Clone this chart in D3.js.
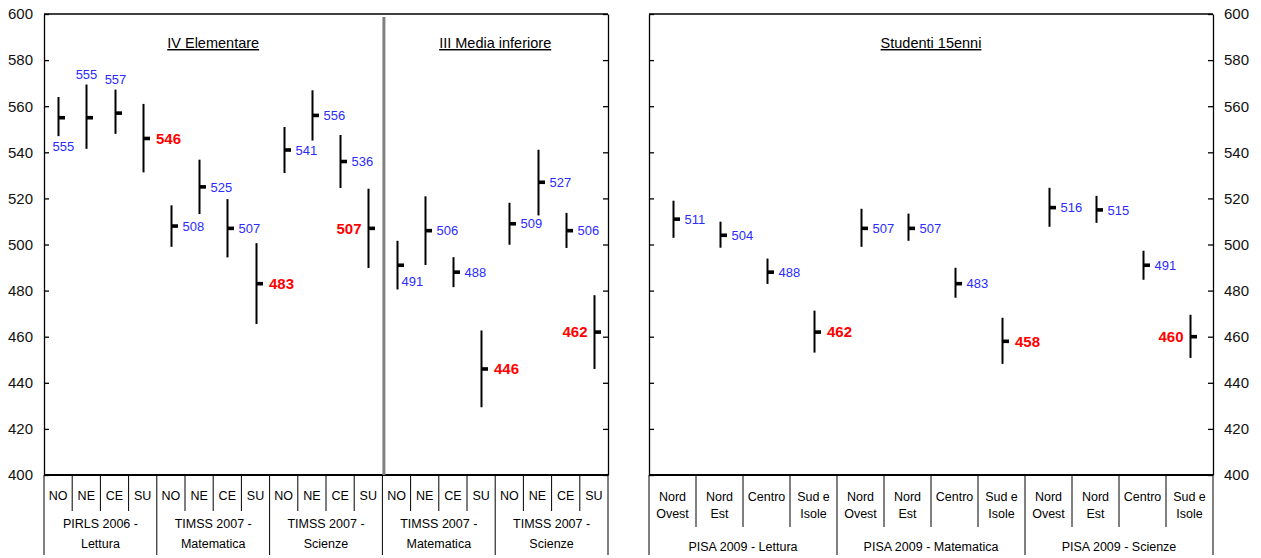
<!DOCTYPE html>
<html>
<head>
<meta charset="utf-8">
<script src="https://cdn.jsdelivr.net/npm/d3@7"></script>
<style>
  body { margin: 0; background: #fff; }
  svg { display: block; font-family: "Liberation Sans", Arial, sans-serif; }
</style>
</head>
<body>
<div id="chart"></div>
<script>
// IV elementare + III media (left block)
const leftCats = ["NO", "NE", "CE", "SU"];
const leftGroups = [["PIRLS 2006 -", "Lettura"], ["TIMSS 2007 -", "Matematica"], ["TIMSS 2007 -", "Scienze"],
                    ["TIMSS 2007 -", "Matematica"], ["TIMSS 2007 -", "Scienze"]];
const leftMeans = [555, 555, 557, 546, 508, 525, 507, 483, 541, 556, 536, 507,
                   491, 506, 488, 446, 509, 527, 506, 462];
const leftLow = [547, 541.5, 548, 531.3, 499, 513.2, 494.4, 465.5, 531, 545.1, 524.5, 489.8,
                 480.5, 491.1, 481.5, 429.4, 499.9, 512.6, 498.5, 446];
const leftHigh = [564, 569.4, 567.2, 561, 517, 536.8, 519.7, 500.6, 551, 566.9, 547.5, 524.2,
                  501.6, 520.9, 494.5, 462.7, 518.1, 541.1, 513.7, 478];

// 15enni (right block)
const rightCats = [["Nord", "Ovest"], ["Nord", "Est"], ["Centro"], ["Sud e", "Isole"]];
const rightGroups = ["PISA 2009 - Lettura", "PISA 2009 - Matematica", "PISA 2009 - Scienze"];
const rightMeans = [511, 504, 488, 462, 507, 507, 483, 458, 516, 515, 491, 460];
const rightLow = [502.9, 498.6, 482.9, 453.1, 499, 501.6, 476.9, 448.2, 507.7, 509.4, 484.7, 450.8];
const rightHigh = [519, 509.9, 493.9, 471.3, 515.5, 513.4, 489.9, 468.2, 524.6, 521.1, 497.3, 469.5];

const yTicks = [400, 420, 440, 460, 480, 500, 520, 540, 560, 580, 600];
const titles = ["IV Elementare", "III Media inferiore", "Studenti 15enni"];

const width = 1261, height = 558;
const plotTop = 14, base = 475;
const blue = "#2b2bff", red = "#ff0000";

const svg = d3.select("#chart").append("svg")
    .attr("width", width)
    .attr("height", height);

const y = d3.scaleLinear().domain([400, 600]).range([base, plotTop]);
const xL = d3.scaleBand().domain(d3.range(leftMeans.length)).range([44, 608]).padding(0);
const xR = d3.scaleBand().domain(d3.range(rightMeans.length)).range([649, 1213]).padding(0);

// where each value label goes
const leftPos = ["below", "above", "above", "right", "right", "right", "right", "right",
                 "right", "right", "right", "left", "belowright", "right", "right", "right",
                 "right", "right", "right", "left"];
const rightPos = ["right", "right", "right", "right", "right", "right", "right", "right",
                  "right", "right", "right", "left"];

function styleAxis(g) {
    g.selectAll("path").attr("stroke", "#000").attr("stroke-width", 1.3);
    g.selectAll("line").attr("stroke", "#000").attr("stroke-width", 1.3);
    g.selectAll("text").attr("font-size", "15px").attr("fill", "#111")
        .attr("font-family", "Liberation Sans, Arial, sans-serif");
}

// axes
svg.append("g").attr("transform", "translate(44,0)")
    .call(d3.axisLeft(y).tickValues(yTicks).tickSize(-5).tickSizeOuter(0).tickPadding(11))
    .call(styleAxis);
svg.append("g").attr("transform", "translate(608,0)")
    .call(d3.axisRight(y).tickValues(yTicks).tickSize(-5).tickSizeOuter(0).tickFormat(""))
    .call(styleAxis);
svg.append("g").attr("transform", "translate(649,0)")
    .call(d3.axisLeft(y).tickValues(yTicks).tickSize(-5).tickSizeOuter(0).tickFormat(""))
    .call(styleAxis);
svg.append("g").attr("transform", "translate(1213,0)")
    .call(d3.axisRight(y).tickValues(yTicks).tickSize(-5).tickSizeOuter(0).tickPadding(11))
    .call(styleAxis);

// top borders
[[44, 608], [649, 1213]].forEach(r => {
    svg.append("line").attr("x1", r[0]).attr("x2", r[1]).attr("y1", plotTop).attr("y2", plotTop)
        .attr("stroke", "#000").attr("stroke-width", 1.3);
    svg.append("line").attr("x1", r[0]).attr("x2", r[1]).attr("y1", base).attr("y2", base)
        .attr("stroke", "#000").attr("stroke-width", 2);
});

// grey separator between IV elementare and III media
svg.append("line")
    .attr("x1", xL(12) + 1.5).attr("x2", xL(12) + 1.5)
    .attr("y1", plotTop + 3).attr("y2", base)
    .attr("stroke", "#808080").attr("stroke-width", 3);

// category dividers + labels
function drawCategories(x, n, perGroup, catLabels, isRight) {
    const bw = x.bandwidth();
    for (let i = 0; i <= n; i++) {
        const xx = i < n ? x(i) : x(n - 1) + bw;
        const isGroup = i % perGroup === 0;
        svg.append("line")
            .attr("x1", xx).attr("x2", xx)
            .attr("y1", base).attr("y2", isGroup ? 555 : (isRight ? 527 : 511))
            .attr("stroke", "#000").attr("stroke-width", 1);
    }
    for (let i = 0; i < n; i++) {
        const lines = catLabels[i % perGroup];
        const arr = Array.isArray(lines) ? lines : [lines];
        const t = svg.append("text")
            .attr("x", x(i) + bw / 2)
            .attr("y", isRight ? 501 : 499.5)
            .attr("text-anchor", "middle")
            .attr("font-size", isRight ? "12.5px" : "12.5px")
            .attr("fill", "#000");
        arr.forEach((s, k) => {
            t.append("tspan").attr("x", x(i) + bw / 2).attr("dy", k === 0 ? 0 : 17).text(s);
        });
    }
}
drawCategories(xL, leftMeans.length, 4, leftCats, false);
drawCategories(xR, rightMeans.length, 4, rightCats, true);

// group labels
leftGroups.forEach((g, gi) => {
    const cx = xL(gi * 4) + xL.bandwidth() * 2;
    const t = svg.append("text").attr("x", cx).attr("y", 528)
        .attr("text-anchor", "middle").attr("font-size", "12.5px").attr("fill", "#000");
    g.forEach((s, k) => t.append("tspan").attr("x", cx).attr("dy", k === 0 ? 0 : 20).text(s));
});
rightGroups.forEach((g, gi) => {
    const cx = xR(gi * 4) + xR.bandwidth() * 2;
    svg.append("text").attr("x", cx).attr("y", 551)
        .attr("text-anchor", "middle").attr("font-size", "12.5px").attr("fill", "#000")
        .text(g);
});

// titles
[[titles[0], (xL(0) + xL(12)) / 2], [titles[1], (xL(12) + 608) / 2], [titles[2], 931]]
    .forEach(d => {
        svg.append("text").attr("x", d[1]).attr("y", 48)
            .attr("text-anchor", "middle").attr("font-size", "14.5px")
            .attr("text-decoration", "underline").attr("fill", "#000")
            .text(d[0]);
    });

// range bars with mean tick and value label
function drawBars(x, means, lows, highs, pos) {
    means.forEach((m, i) => {
        const cx = Math.round(x(i) + x.bandwidth() / 2) + 0.5;
        const isSud = i % 4 === 3;
        svg.append("line")
            .attr("x1", cx).attr("x2", cx)
            .attr("y1", y(highs[i])).attr("y2", y(lows[i]))
            .attr("stroke", "#000").attr("stroke-width", 2);
        svg.append("rect")
            .attr("x", cx).attr("y", y(m) - 1.8)
            .attr("width", 6.5).attr("height", 3.6)
            .attr("fill", "#000");

        const lab = svg.append("text")
            .attr("fill", isSud ? red : blue)
            .attr("font-size", isSud ? "15px" : "13px")
            .attr("font-weight", isSud ? "bold" : "normal")
            .text(m);
        const p = pos[i];
        if (p === "right") {
            lab.attr("x", cx + (isSud ? 12.5 : 11)).attr("y", y(m)).attr("dy", "0.36em");
        } else if (p === "left") {
            lab.attr("x", cx - 7).attr("y", y(m)).attr("dy", "0.36em").attr("text-anchor", "end");
        } else if (p === "above") {
            lab.attr("x", cx).attr("y", y(highs[i]) - 6).attr("text-anchor", "middle");
        } else if (p === "below") {
            lab.attr("x", cx - 6).attr("y", y(lows[i]) + 15);
        } else if (p === "belowright") {
            lab.attr("x", cx + 4).attr("y", y(m) + 21);
        }
    });
}
drawBars(xL, leftMeans, leftLow, leftHigh, leftPos);
drawBars(xR, rightMeans, rightLow, rightHigh, rightPos);
</script>
</body>
</html>
